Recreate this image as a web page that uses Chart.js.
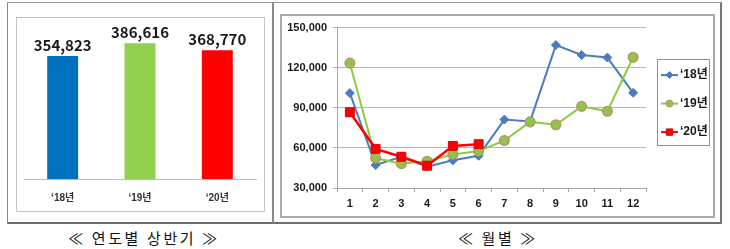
<!DOCTYPE html>
<html>
<head>
<meta charset="utf-8">
<script src="https://cdn.jsdelivr.net/npm/chart.js@4.4.0/dist/chart.umd.min.js"></script>
<style>
  html, body { margin:0; padding:0; background:#fff; }
  body { width:730px; height:249px; position:relative; overflow:hidden; }
  .abs { position:absolute; }
  #frame { left:7px; top:2px; width:712px; height:219px; border-top:1px solid #9a9a9a; border-left:1px solid #8a8a8a; border-right:2px solid #777; border-bottom:2px solid #6e6e6e; }
  #sep { left:272px; top:2px; width:2px; height:221px; background:#8a8a8a; }
  #lbox { left:16px; top:17px; width:247px; height:193px; border:1px solid #c4c4c4; }
  #rbox { left:280px; top:14px; width:431px; height:200px; border:2px solid #ababab; }
  .cap { font-family:"Noto Sans CJK KR", sans-serif; font-size:15px; line-height:1; color:#111; letter-spacing:2.6px; white-space:nowrap; transform:translateX(-50%); }
</style>
</head>
<body>
<div id="frame" class="abs"></div>
<div id="sep" class="abs"></div>
<div id="lbox" class="abs"></div>
<div id="rbox" class="abs"></div>
<canvas id="c1" class="abs" width="246" height="192" style="left:17px;top:18px;"></canvas>
<canvas id="c2" class="abs" width="430" height="200" style="left:282px;top:15px;"></canvas>
<div class="abs cap" style="left:144px;top:230px;">≪ 연도별 상반기 ≫</div>
<div class="abs cap" style="left:498px;top:230px;">≪ 월별 ≫</div>
<script>
// ---- data ----
const barYears = ['‘18년', '‘19년', '‘20년'];
const barValues = [354823, 386616, 368770];
const barColors = ['#0070C0', '#92D050', '#FF0000'];

const months = ['1','2','3','4','5','6','7','8','9','10','11','12'];
const seriesNames = ['‘18년', '‘19년', '‘20년'];
const s18 = [101000, 47200, 53400, 46000, 50700, 54100, 81200, 79800, 136900, 129500, 127600, 101200];
const s19 = [123400, 52400, 48200, 50000, 55100, 57600, 65500, 79500, 77300, 91100, 87400, 127800];
const s20 = [86700, 59300, 53400, 46700, 61500, 62800, null, null, null, null, null, null];
const yTickValues = [30000, 60000, 90000, 120000, 150000];

const numFont = "'Liberation Sans Narrow', 'Noto Sans CJK KR', sans-serif";
const tickFont = "'Liberation Sans', 'Noto Sans CJK KR', sans-serif";
const fmt = v => Number(v).toLocaleString('en-US');

// value labels above bars
const valueLabels = {
  id: 'valueLabels',
  afterDatasetsDraw(chart) {
    const ctx = chart.ctx;
    const meta = chart.getDatasetMeta(0);
    ctx.save();
    ctx.font = "bold 15px " + numFont;
    ctx.fillStyle = '#1a1a1a';
    ctx.textAlign = 'center';
    ctx.textBaseline = 'middle';
    meta.data.forEach((bar, i) => {
      ctx.fillText(fmt(chart.data.datasets[0].data[i]), bar.x, bar.y - 11);
    });
    ctx.restore();
  }
};

new Chart(document.getElementById('c1'), {
  type: 'bar',
  data: {
    labels: barYears,
    datasets: [{ data: barValues, backgroundColor: barColors, barPercentage: 0.4, categoryPercentage: 1 }]
  },
  options: {
    responsive: false, animation: false,
    layout: { padding: { left: 7, right: 7, top: 2, bottom: 0 } },
    plugins: { legend: { display: false }, tooltip: { enabled: false } },
    scales: {
      x: {
        grid: { display: false, drawTicks: false },
        border: { color: '#BDBDBD', width: 1 },
        ticks: { padding: 13, color: '#333', font: { family: tickFont, size: 10, weight: 'bold' } },
        afterFit: s => { s.height = 31; }
      },
      y: { display: false, min: 50000, max: 444000 }
    }
  },
  plugins: [valueLabels]
});

// custom legend with line + marker symbols
const boxLegend = {
  id: 'boxLegend',
  afterDraw(chart) {
    const { ctx, chartArea } = chart;
    const bx = chartArea.right + 11, by = chartArea.top + 31, bw = 52, bh = 86;
    ctx.save();
    ctx.strokeStyle = '#EE6B6B';
    ctx.lineWidth = 1;
    ctx.strokeRect(Math.round(bx) + 0.5, Math.round(by) + 0.5, bw, bh);
    chart.data.datasets.forEach((ds, i) => {
      const y = by + 16.5 + i * 28.5;
      ctx.strokeStyle = ds.borderColor;
      ctx.lineWidth = 2;
      ctx.beginPath();
      ctx.moveTo(bx + 4, y);
      ctx.lineTo(bx + 21, y);
      ctx.stroke();
      ctx.fillStyle = ds.pointBackgroundColor;
      ctx.strokeStyle = ds.pointBorderColor;
      ctx.lineWidth = 1;
      Chart.helpers.drawPoint(ctx, { pointStyle: ds.pointStyle, radius: ds.legendRadius, borderWidth: 1, rotation: 0 }, bx + 12.5, y);
      ctx.fillStyle = '#1a1a1a';
      ctx.font = "bold 12px " + tickFont;
      ctx.textAlign = 'left';
      ctx.textBaseline = 'middle';
      ctx.fillText(ds.label, bx + 23, y);
    });
    ctx.restore();
  }
};

new Chart(document.getElementById('c2'), {
  type: 'line',
  data: {
    labels: months,
    datasets: [
      { label: seriesNames[0], data: s18, borderColor: '#4A7EBB', borderWidth: 2, pointStyle: 'rectRot', pointRadius: 4.5,
        pointBackgroundColor: '#4A7EBB', pointBorderColor: '#4A7EBB', pointBorderWidth: 1, legendRadius: 3.5, order: 2, tension: 0 },
      { label: seriesNames[1], data: s19, borderColor: '#8CCB45', borderWidth: 2, pointStyle: 'circle', pointRadius: 4.8,
        pointBackgroundColor: '#8FC64A', pointBorderColor: '#B99468', pointBorderWidth: 1.5, legendRadius: 3.5, order: 1, tension: 0 },
      { label: seriesNames[2], data: s20, borderColor: '#FF0000', borderWidth: 2.5, pointStyle: 'rect', pointRadius: 6.3,
        pointBackgroundColor: '#FF0000', pointBorderColor: '#E00000', pointBorderWidth: 1, legendRadius: 4.5, order: 0, tension: 0 }
    ]
  },
  options: {
    responsive: false, animation: false,
    layout: { padding: { left: 0, right: 66, top: 11, bottom: 0 } },
    plugins: { legend: { display: false }, tooltip: { enabled: false } },
    scales: {
      x: {
        offset: true,
        grid: { offset: true, drawOnChartArea: false, drawTicks: true, tickLength: 4, color: '#A6A6A6' },
        border: { color: '#A6A6A6' },
        ticks: { padding: 5, color: '#1a1a1a', font: { family: tickFont, size: 11, weight: 'bold' } },
        afterFit: s => { s.height = 27; }
      },
      y: {
        min: 30000, max: 150000,
        afterBuildTicks: s => { s.ticks = yTickValues.map(v => ({ value: v })); },
        grid: { color: '#B5B5B5', tickLength: 4 },
        border: { color: '#A6A6A6' },
        ticks: { padding: 6, color: '#1a1a1a', font: { family: tickFont, size: 11, weight: 'bold' }, callback: v => fmt(v) },
        afterFit: s => { s.width = 55; }
      }
    }
  },
  plugins: [boxLegend]
});
</script>
</body>
</html>
